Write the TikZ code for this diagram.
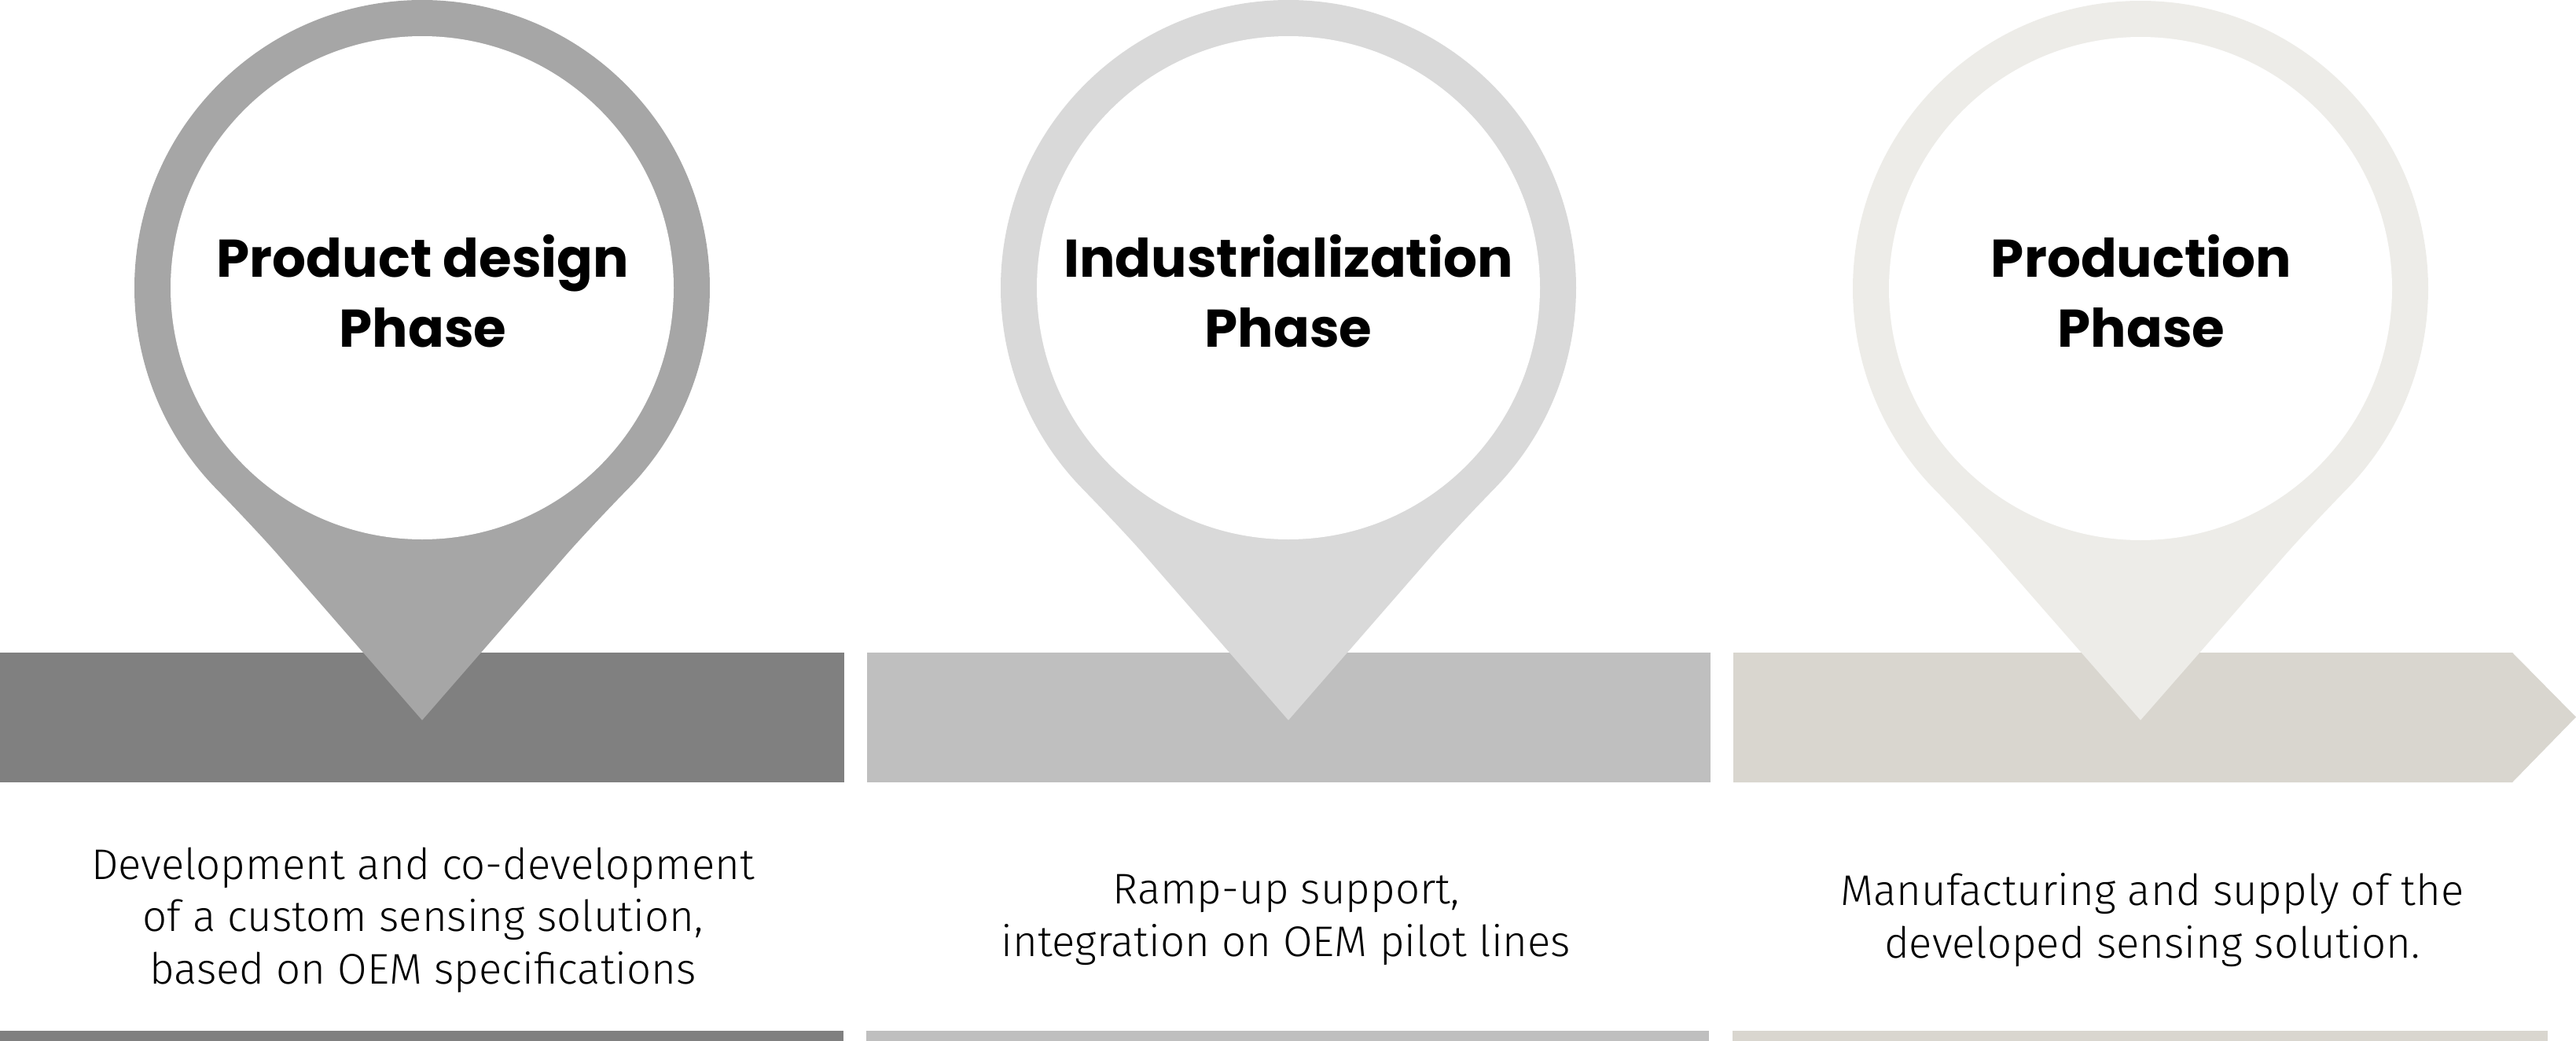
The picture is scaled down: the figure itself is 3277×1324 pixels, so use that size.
\documentclass[tikz,border=0pt]{standalone}
\usepackage{fontspec}
\newfontfamily\titlefont{Poppins}
\newfontfamily\descfont{Fira Sans Light}
\usetikzlibrary{positioning}

\definecolor{pinA}{HTML}{A6A6A6}
\definecolor{barA}{HTML}{808080}
\definecolor{pinB}{HTML}{D9D9D9}
\definecolor{barB}{HTML}{BFBFBF}
\definecolor{pinC}{HTML}{EDECE8}
\definecolor{barC}{HTML}{D9D6CF}

\tikzstyle{phase} = [inner sep=0pt, align=center, text=black, font=\titlefont\bfseries\fontsize{19.2}{25.3}\selectfont]
\tikzstyle{desc} = [inner sep=0pt, align=center, text=black, font=\descfont\fontsize{15.5}{18.9}\selectfont]

\begin{document}
\begin{tikzpicture}[x=0.01cm, y=-0.01cm]

\useasboundingbox (0,0) rectangle (3277,1324);

%% BARS

\fill [barA] (0,830) rectangle (1074,995);
\fill [barB] (1103,830) rectangle (2176,995);
\fill [barC] (2205,830) -- (3196,830) -- (3277,912) -- (3196,995) -- (2205,995) -- cycle;

\fill [barA] (0,1311) rectangle (1073,1324);
\fill [barB] (1102,1311) rectangle (2174,1324);
\fill [barC] (2204,1311) rectangle (3241,1324);

%% PINS

\fill [pinA, shift={(537,366)}] (0,550) -- (-183,340) .. controls (-203,317) and (-242,276) .. (136:366)
  arc [start angle=136, end angle=404, radius=366] .. controls (242,276) and (203,317) .. (183,340) -- cycle;
\fill [white] (537,366) circle [radius=320];

\fill [pinB, shift={(1639,366)}] (0,550) -- (-183,340) .. controls (-203,317) and (-242,276) .. (136:366)
  arc [start angle=136, end angle=404, radius=366] .. controls (242,276) and (203,317) .. (183,340) -- cycle;
\fill [white] (1639,366) circle [radius=320];

\fill [pinC, shift={(2723,367)}] (0,549) -- (-183,340) .. controls (-203,317) and (-242,276) .. (136:366)
  arc [start angle=136, end angle=404, radius=366] .. controls (242,276) and (203,317) .. (183,340) -- cycle;
\fill [white] (2723,367) circle [radius=320];

%% NODES

\node (design) [phase] at (538,370) {Product design\\Phase};
\node (indus) [phase] at (1639,370) {Industrialization\\Phase};
\node (prod) [phase] at (2724,370) {Production\\Phase};

\node (design_txt) [desc] at (538,1170) {Development and co-development\\of a custom sensing solution,\\based on OEM specifications};
\node (indus_txt) [desc] at (1636,1170) {Ramp-up support,\\integration on OEM pilot lines};
\node (prod_txt) [desc] at (2738,1170) {Manufacturing and supply of the\\developed sensing solution.};

\end{tikzpicture}
\end{document}
